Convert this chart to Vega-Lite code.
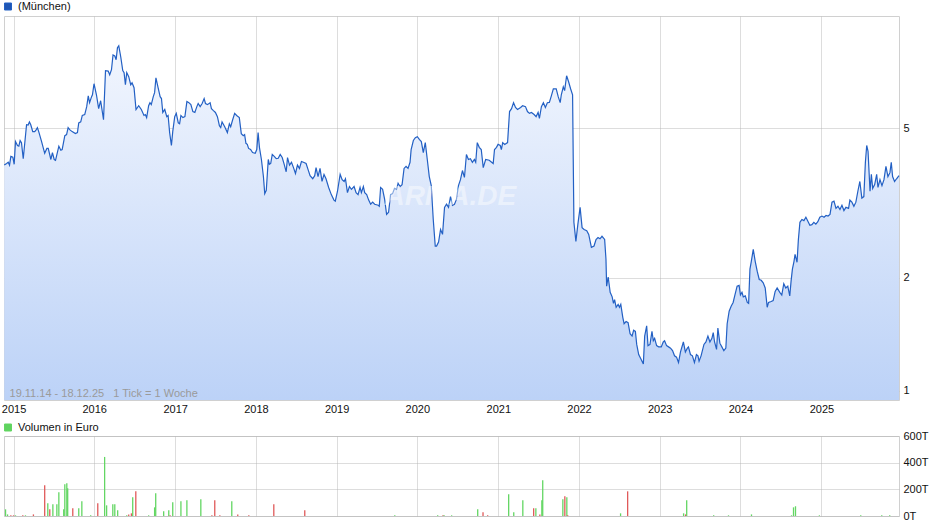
{
"$schema": "https://vega.github.io/schema/vega-lite/v6.json",
"padding": {"left": 0, "top": 0, "right": 5, "bottom": 5},
"background": "white",
"config": {
  "font": "Liberation Sans",
  "view": {"stroke": "#d0d0d0"},
  "axis": {"labelFont": "Liberation Sans", "labelFontSize": 11, "labelColor": "#111111", "domain": false, "ticks": false, "gridColor": "#b4b4b4", "gridOpacity": 0.45, "labelFlush": false, "title": null, "zindex": 1},
  "legend": {"labelFont": "Liberation Sans", "labelFontSize": 11, "labelColor": "#111111"}
},
"datasets": {
"price": [
{"d":"2014-11-20","p":3.99},{"d":"2014-12-01","p":4.03},{"d":"2014-12-08","p":4.06},{"d":"2014-12-14","p":3.99},{"d":"2014-12-20","p":4.21},{"d":"2014-12-29","p":4.19},
{"d":"2015-01-04","p":4.01},{"d":"2015-01-10","p":4.61},{"d":"2015-01-19","p":4.50},{"d":"2015-01-25","p":4.48},{"d":"2015-01-31","p":4.64},{"d":"2015-02-06","p":4.58},{"d":"2015-02-14","p":4.15},{"d":"2015-03-01","p":5.11},{"d":"2015-03-08","p":5.10},{"d":"2015-03-14","p":5.20},{"d":"2015-03-20","p":5.11},{"d":"2015-03-29","p":4.90},{"d":"2015-04-07","p":4.90},{"d":"2015-04-14","p":4.96},{"d":"2015-04-19","p":5.02},{"d":"2015-04-25","p":4.90},{"d":"2015-05-08","p":4.61},{"d":"2015-05-22","p":4.29},{"d":"2015-06-01","p":4.42},{"d":"2015-06-07","p":4.42},{"d":"2015-06-19","p":4.13},{"d":"2015-06-26","p":4.31},{"d":"2015-07-04","p":4.13},{"d":"2015-07-10","p":4.11},{"d":"2015-07-25","p":4.48},{"d":"2015-08-03","p":4.37},{"d":"2015-08-09","p":4.39},{"d":"2015-08-21","p":4.78},{"d":"2015-08-29","p":4.81},{"d":"2015-09-05","p":5.02},{"d":"2015-09-12","p":4.96},{"d":"2015-09-23","p":4.90},{"d":"2015-10-08","p":4.84},{"d":"2015-10-17","p":4.87},{"d":"2015-10-23","p":5.17},{"d":"2015-11-01","p":5.20},{"d":"2015-11-08","p":5.41},{"d":"2015-11-19","p":5.44},{"d":"2015-11-28","p":5.71},{"d":"2015-12-05","p":6.10},{"d":"2015-12-11","p":5.85},{"d":"2015-12-20","p":6.07},{"d":"2015-12-24","p":6.14},{"d":"2015-12-31","p":6.57},
{"d":"2016-01-11","p":6.14},{"d":"2016-01-21","p":5.64},{"d":"2016-01-30","p":5.92},{"d":"2016-02-12","p":5.27},{"d":"2016-02-21","p":7.12},{"d":"2016-03-04","p":7.10},{"d":"2016-03-11","p":6.94},{"d":"2016-03-19","p":7.16},{"d":"2016-03-26","p":7.84},{"d":"2016-04-03","p":7.79},{"d":"2016-04-09","p":7.61},{"d":"2016-04-15","p":8.19},{"d":"2016-04-21","p":8.29},{"d":"2016-04-30","p":7.74},{"d":"2016-05-09","p":7.12},{"d":"2016-05-15","p":7.03},{"d":"2016-05-21","p":6.53},{"d":"2016-05-27","p":7.03},{"d":"2016-06-05","p":6.86},{"d":"2016-06-14","p":6.53},{"d":"2016-06-20","p":6.61},{"d":"2016-06-29","p":6.41},{"d":"2016-07-08","p":5.61},{"d":"2016-07-20","p":5.74},{"d":"2016-08-01","p":5.61},{"d":"2016-08-13","p":5.41},{"d":"2016-08-19","p":5.44},{"d":"2016-08-25","p":5.34},{"d":"2016-09-03","p":5.74},{"d":"2016-09-09","p":5.85},{"d":"2016-09-15","p":5.78},{"d":"2016-09-24","p":6.07},{"d":"2016-09-30","p":6.22},{"d":"2016-10-06","p":6.81},{"d":"2016-10-16","p":6.41},{"d":"2016-10-25","p":6.07},{"d":"2016-10-31","p":6.00},{"d":"2016-11-06","p":5.51},{"d":"2016-11-15","p":5.61},{"d":"2016-11-24","p":5.37},{"d":"2016-11-30","p":5.41},{"d":"2016-12-07","p":4.87},{"d":"2016-12-15","p":4.50},{"d":"2016-12-21","p":4.90},{"d":"2016-12-30","p":5.37},
{"d":"2017-01-06","p":5.48},{"d":"2017-01-15","p":5.17},{"d":"2017-01-21","p":5.14},{"d":"2017-01-27","p":5.41},{"d":"2017-02-05","p":5.34},{"d":"2017-02-14","p":5.37},{"d":"2017-02-23","p":5.89},{"d":"2017-03-04","p":5.85},{"d":"2017-03-13","p":5.78},{"d":"2017-03-22","p":5.54},{"d":"2017-03-31","p":5.51},{"d":"2017-04-09","p":5.71},{"d":"2017-04-15","p":5.82},{"d":"2017-04-24","p":5.71},{"d":"2017-05-03","p":5.82},{"d":"2017-05-12","p":6.00},{"d":"2017-05-18","p":5.82},{"d":"2017-05-27","p":5.78},{"d":"2017-06-08","p":5.85},{"d":"2017-06-14","p":5.64},{"d":"2017-06-23","p":5.57},{"d":"2017-07-02","p":5.51},{"d":"2017-07-11","p":5.37},{"d":"2017-07-20","p":5.08},{"d":"2017-07-26","p":5.02},{"d":"2017-08-01","p":5.20},{"d":"2017-08-13","p":5.05},{"d":"2017-08-25","p":4.87},{"d":"2017-09-03","p":5.14},{"d":"2017-09-09","p":5.05},{"d":"2017-09-18","p":5.27},{"d":"2017-09-27","p":5.48},{"d":"2017-10-06","p":5.41},{"d":"2017-10-18","p":5.34},{"d":"2017-10-27","p":4.84},{"d":"2017-11-05","p":4.78},{"d":"2017-11-11","p":4.81},{"d":"2017-11-17","p":4.56},{"d":"2017-11-23","p":4.53},{"d":"2017-11-29","p":4.42},{"d":"2017-12-08","p":4.39},{"d":"2017-12-17","p":4.31},{"d":"2017-12-29","p":4.29},
{"d":"2018-01-05","p":4.39},{"d":"2018-01-11","p":4.87},{"d":"2018-01-17","p":4.45},{"d":"2018-01-26","p":4.13},{"d":"2018-02-04","p":3.72},{"d":"2018-02-10","p":3.35},{"d":"2018-02-17","p":3.42},{"d":"2018-02-26","p":4.13},{"d":"2018-03-03","p":4.01},{"d":"2018-03-09","p":4.03},{"d":"2018-03-16","p":4.26},{"d":"2018-03-25","p":4.21},{"d":"2018-04-03","p":4.15},{"d":"2018-04-12","p":4.16},{"d":"2018-04-21","p":4.26},{"d":"2018-04-30","p":4.18},{"d":"2018-05-09","p":4.01},{"d":"2018-05-18","p":3.83},{"d":"2018-05-24","p":4.18},{"d":"2018-06-02","p":3.99},{"d":"2018-06-11","p":4.06},{"d":"2018-06-20","p":3.93},{"d":"2018-06-29","p":3.79},{"d":"2018-07-08","p":3.99},{"d":"2018-07-17","p":3.91},{"d":"2018-07-26","p":4.08},{"d":"2018-08-04","p":4.06},{"d":"2018-08-16","p":4.03},{"d":"2018-08-25","p":3.88},{"d":"2018-09-03","p":3.74},{"d":"2018-09-15","p":3.67},{"d":"2018-09-24","p":3.74},{"d":"2018-09-30","p":3.93},{"d":"2018-10-09","p":3.72},{"d":"2018-10-18","p":3.91},{"d":"2018-10-27","p":3.61},{"d":"2018-11-05","p":3.77},{"d":"2018-11-14","p":3.67},{"d":"2018-11-26","p":3.48},{"d":"2018-12-08","p":3.33},{"d":"2018-12-20","p":3.22},{"d":"2018-12-26","p":3.20},
{"d":"2019-01-05","p":3.40},{"d":"2019-01-17","p":3.77},{"d":"2019-01-26","p":3.65},{"d":"2019-02-04","p":3.61},{"d":"2019-02-10","p":3.67},{"d":"2019-02-19","p":3.37},{"d":"2019-02-28","p":3.50},{"d":"2019-03-09","p":3.44},{"d":"2019-03-21","p":3.50},{"d":"2019-03-30","p":3.37},{"d":"2019-04-08","p":3.33},{"d":"2019-04-17","p":3.48},{"d":"2019-04-23","p":3.37},{"d":"2019-05-02","p":3.50},{"d":"2019-05-08","p":3.37},{"d":"2019-05-17","p":3.33},{"d":"2019-05-26","p":3.22},{"d":"2019-06-04","p":3.14},{"d":"2019-06-13","p":3.18},{"d":"2019-06-22","p":3.14},{"d":"2019-07-08","p":3.12},{"d":"2019-07-13","p":3.10},{"d":"2019-07-19","p":3.48},{"d":"2019-07-28","p":3.44},{"d":"2019-08-06","p":3.24},{"d":"2019-08-15","p":2.95},{"d":"2019-08-24","p":2.99},{"d":"2019-09-02","p":3.33},{"d":"2019-09-11","p":3.35},{"d":"2019-09-20","p":3.46},{"d":"2019-09-29","p":3.44},{"d":"2019-10-06","p":3.57},{"d":"2019-10-15","p":3.50},{"d":"2019-10-24","p":3.54},{"d":"2019-11-02","p":3.91},{"d":"2019-11-11","p":3.96},{"d":"2019-11-20","p":3.91},{"d":"2019-11-29","p":4.06},{"d":"2019-12-04","p":4.39},{"d":"2019-12-14","p":4.64},{"d":"2019-12-23","p":4.72},
{"d":"2020-01-01","p":4.75},{"d":"2020-01-10","p":4.67},{"d":"2020-01-19","p":4.61},{"d":"2020-01-28","p":4.31},{"d":"2020-02-06","p":4.58},{"d":"2020-02-15","p":4.13},{"d":"2020-02-24","p":3.72},{"d":"2020-03-04","p":3.52},{"d":"2020-03-13","p":2.86},{"d":"2020-03-22","p":2.43},{"d":"2020-03-28","p":2.43},{"d":"2020-04-06","p":2.49},{"d":"2020-04-15","p":2.69},{"d":"2020-04-24","p":2.61},{"d":"2020-05-03","p":3.08},{"d":"2020-05-12","p":3.14},{"d":"2020-05-21","p":3.08},{"d":"2020-05-30","p":3.29},{"d":"2020-06-08","p":3.12},{"d":"2020-06-17","p":3.14},{"d":"2020-06-26","p":3.24},{"d":"2020-07-05","p":3.52},{"d":"2020-07-14","p":3.65},{"d":"2020-07-23","p":3.86},{"d":"2020-08-01","p":3.70},{"d":"2020-08-10","p":4.26},{"d":"2020-08-19","p":4.13},{"d":"2020-08-28","p":4.15},{"d":"2020-09-06","p":4.06},{"d":"2020-09-15","p":4.13},{"d":"2020-09-21","p":4.06},{"d":"2020-09-28","p":4.58},{"d":"2020-10-07","p":4.45},{"d":"2020-10-16","p":4.39},{"d":"2020-10-25","p":3.93},{"d":"2020-11-05","p":4.13},{"d":"2020-11-21","p":4.11},{"d":"2020-12-09","p":4.03},{"d":"2020-12-15","p":4.39},{"d":"2020-12-24","p":4.45},{"d":"2020-12-31","p":4.53},
{"d":"2021-01-10","p":4.50},{"d":"2021-01-15","p":4.39},{"d":"2021-01-21","p":4.58},{"d":"2021-01-30","p":4.53},{"d":"2021-02-12","p":4.58},{"d":"2021-02-21","p":5.54},{"d":"2021-03-02","p":5.64},{"d":"2021-03-11","p":5.85},{"d":"2021-03-20","p":5.68},{"d":"2021-03-29","p":5.61},{"d":"2021-04-12","p":5.68},{"d":"2021-04-21","p":5.74},{"d":"2021-05-04","p":5.71},{"d":"2021-05-13","p":5.54},{"d":"2021-05-22","p":5.48},{"d":"2021-05-31","p":5.51},{"d":"2021-06-12","p":5.44},{"d":"2021-06-21","p":5.37},{"d":"2021-06-30","p":5.51},{"d":"2021-07-06","p":5.31},{"d":"2021-07-15","p":5.71},{"d":"2021-07-24","p":5.85},{"d":"2021-08-02","p":5.68},{"d":"2021-08-11","p":5.85},{"d":"2021-08-20","p":5.86},{"d":"2021-08-29","p":6.10},{"d":"2021-09-07","p":6.37},{"d":"2021-09-20","p":6.37},{"d":"2021-09-29","p":6.07},{"d":"2021-10-08","p":5.85},{"d":"2021-10-13","p":6.14},{"d":"2021-10-22","p":6.45},{"d":"2021-10-28","p":6.30},{"d":"2021-11-06","p":6.90},{"d":"2021-11-15","p":6.65},{"d":"2021-11-24","p":6.37},{"d":"2021-12-03","p":6.14},{"d":"2021-12-06","p":4.13},{"d":"2021-12-09","p":2.81},{"d":"2021-12-18","p":2.50},{"d":"2021-12-27","p":2.78},
{"d":"2022-01-06","p":3.08},{"d":"2022-01-15","p":2.72},{"d":"2022-01-24","p":2.69},{"d":"2022-02-05","p":2.67},{"d":"2022-02-14","p":2.61},{"d":"2022-02-26","p":2.41},{"d":"2022-03-10","p":2.43},{"d":"2022-03-19","p":2.53},{"d":"2022-03-28","p":2.56},{"d":"2022-04-06","p":2.54},{"d":"2022-04-15","p":2.58},{"d":"2022-04-27","p":2.53},{"d":"2022-05-03","p":2.24},{"d":"2022-05-06","p":1.90},{"d":"2022-05-13","p":2.01},{"d":"2022-05-22","p":1.83},{"d":"2022-05-31","p":1.78},{"d":"2022-06-06","p":1.71},{"d":"2022-06-11","p":1.75},{"d":"2022-06-18","p":1.67},{"d":"2022-06-27","p":1.70},{"d":"2022-07-03","p":1.67},{"d":"2022-07-09","p":1.70},{"d":"2022-07-18","p":1.57},{"d":"2022-07-24","p":1.51},{"d":"2022-08-02","p":1.53},{"d":"2022-08-11","p":1.52},{"d":"2022-08-20","p":1.42},{"d":"2022-08-29","p":1.40},{"d":"2022-09-05","p":1.45},{"d":"2022-09-13","p":1.44},{"d":"2022-09-19","p":1.33},{"d":"2022-09-28","p":1.25},{"d":"2022-10-07","p":1.22},{"d":"2022-10-19","p":1.18},{"d":"2022-10-25","p":1.40},{"d":"2022-11-03","p":1.49},{"d":"2022-11-09","p":1.32},{"d":"2022-11-18","p":1.33},{"d":"2022-11-27","p":1.44},{"d":"2022-12-03","p":1.36},{"d":"2022-12-09","p":1.38},{"d":"2022-12-18","p":1.32},{"d":"2022-12-27","p":1.31},
{"d":"2023-01-08","p":1.31},{"d":"2023-01-17","p":1.35},{"d":"2023-01-23","p":1.36},{"d":"2023-02-01","p":1.32},{"d":"2023-02-10","p":1.31},{"d":"2023-02-19","p":1.30},{"d":"2023-02-28","p":1.28},{"d":"2023-03-09","p":1.24},{"d":"2023-03-18","p":1.23},{"d":"2023-03-27","p":1.19},{"d":"2023-04-05","p":1.27},{"d":"2023-04-18","p":1.35},{"d":"2023-04-27","p":1.27},{"d":"2023-05-06","p":1.30},{"d":"2023-05-11","p":1.31},{"d":"2023-05-20","p":1.25},{"d":"2023-05-29","p":1.24},{"d":"2023-06-07","p":1.19},{"d":"2023-06-16","p":1.25},{"d":"2023-06-23","p":1.24},{"d":"2023-06-28","p":1.20},{"d":"2023-07-07","p":1.24},{"d":"2023-07-20","p":1.33},{"d":"2023-07-29","p":1.35},{"d":"2023-08-07","p":1.40},{"d":"2023-08-16","p":1.35},{"d":"2023-08-25","p":1.38},{"d":"2023-08-31","p":1.43},{"d":"2023-09-06","p":1.35},{"d":"2023-09-15","p":1.29},{"d":"2023-09-21","p":1.47},{"d":"2023-09-30","p":1.34},{"d":"2023-10-09","p":1.31},{"d":"2023-10-18","p":1.28},{"d":"2023-10-27","p":1.30},{"d":"2023-11-02","p":1.51},{"d":"2023-11-11","p":1.63},{"d":"2023-11-20","p":1.68},{"d":"2023-11-29","p":1.72},{"d":"2023-12-08","p":1.81},{"d":"2023-12-17","p":1.90},{"d":"2023-12-26","p":1.91},
{"d":"2024-01-01","p":1.80},{"d":"2024-01-08","p":1.83},{"d":"2024-01-14","p":1.78},{"d":"2024-01-23","p":1.79},{"d":"2024-02-01","p":1.72},{"d":"2024-02-07","p":1.71},{"d":"2024-02-13","p":2.11},{"d":"2024-02-19","p":2.21},{"d":"2024-02-28","p":2.38},{"d":"2024-03-08","p":2.21},{"d":"2024-03-17","p":2.08},{"d":"2024-03-26","p":1.98},{"d":"2024-04-04","p":1.97},{"d":"2024-04-13","p":1.94},{"d":"2024-04-22","p":1.88},{"d":"2024-05-01","p":1.67},{"d":"2024-05-07","p":1.72},{"d":"2024-05-19","p":1.73},{"d":"2024-05-28","p":1.74},{"d":"2024-06-06","p":1.84},{"d":"2024-06-15","p":1.88},{"d":"2024-06-27","p":1.83},{"d":"2024-07-06","p":1.80},{"d":"2024-07-15","p":1.93},{"d":"2024-07-24","p":1.88},{"d":"2024-08-02","p":1.90},{"d":"2024-08-11","p":1.79},{"d":"2024-08-17","p":1.96},{"d":"2024-08-23","p":2.11},{"d":"2024-08-30","p":2.21},{"d":"2024-09-04","p":2.31},{"d":"2024-09-13","p":2.20},{"d":"2024-09-19","p":2.53},{"d":"2024-09-26","p":2.81},{"d":"2024-10-05","p":2.86},{"d":"2024-10-14","p":2.84},{"d":"2024-10-23","p":2.90},{"d":"2024-11-01","p":2.83},{"d":"2024-11-10","p":2.76},{"d":"2024-11-19","p":2.77},{"d":"2024-11-28","p":2.81},{"d":"2024-12-07","p":2.78},{"d":"2024-12-16","p":2.82},{"d":"2024-12-25","p":2.90},
{"d":"2025-01-04","p":2.92},{"d":"2025-01-13","p":2.90},{"d":"2025-01-22","p":2.93},{"d":"2025-01-31","p":2.92},{"d":"2025-02-09","p":2.95},{"d":"2025-02-18","p":3.18},{"d":"2025-02-27","p":3.20},{"d":"2025-03-08","p":3.06},{"d":"2025-03-17","p":3.10},{"d":"2025-03-26","p":3.04},{"d":"2025-04-04","p":3.12},{"d":"2025-04-13","p":3.02},{"d":"2025-04-22","p":3.08},{"d":"2025-05-04","p":3.06},{"d":"2025-05-10","p":3.22},{"d":"2025-05-19","p":3.18},{"d":"2025-05-28","p":3.10},{"d":"2025-06-06","p":3.18},{"d":"2025-06-15","p":3.40},{"d":"2025-06-24","p":3.61},{"d":"2025-07-03","p":3.26},{"d":"2025-07-12","p":3.29},{"d":"2025-07-19","p":4.06},{"d":"2025-07-25","p":4.50},{"d":"2025-07-31","p":4.34},{"d":"2025-08-09","p":3.40},{"d":"2025-08-15","p":3.77},{"d":"2025-08-21","p":3.46},{"d":"2025-08-30","p":3.54},{"d":"2025-09-08","p":3.77},{"d":"2025-09-14","p":3.48},{"d":"2025-09-23","p":3.65},{"d":"2025-10-02","p":3.52},{"d":"2025-10-11","p":3.65},{"d":"2025-10-20","p":3.96},{"d":"2025-10-29","p":3.72},{"d":"2025-11-07","p":3.81},{"d":"2025-11-13","p":4.06},{"d":"2025-11-19","p":3.72},{"d":"2025-11-28","p":3.61},{"d":"2025-12-07","p":3.67},{"d":"2025-12-18","p":3.74}
],
"vol": [
{"d":"2014-11-26","v":50000,"dir":"up"},{"d":"2014-12-05","v":12000,"dir":"up"},{"d":"2014-12-20","v":5000,"dir":"down"},{"d":"2015-01-01","v":5000,"dir":"down"},{"d":"2015-01-10","v":5000,"dir":"up"},{"d":"2015-02-12","v":5000,"dir":"down"},{"d":"2015-02-24","v":5000,"dir":"up"},{"d":"2015-04-01","v":12000,"dir":"down"},{"d":"2015-05-22","v":230000,"dir":"down"},{"d":"2015-06-05","v":95000,"dir":"up"},{"d":"2015-06-14","v":50000,"dir":"down"},{"d":"2015-06-28","v":88000,"dir":"up"},{"d":"2015-07-16","v":88000,"dir":"up"},{"d":"2015-07-25","v":178000,"dir":"up"},{"d":"2015-08-16","v":50000,"dir":"up"},{"d":"2015-08-21","v":238000,"dir":"up"},{"d":"2015-08-30","v":245000,"dir":"up"},{"d":"2015-09-03","v":208000,"dir":"up"},{"d":"2015-09-26","v":58000,"dir":"down"},{"d":"2015-10-23","v":58000,"dir":"up"},{"d":"2015-11-06","v":110000,"dir":"up"},{"d":"2015-12-16","v":5000,"dir":"up"},
{"d":"2016-01-17","v":95000,"dir":"down"},{"d":"2016-02-17","v":443000,"dir":"up"},{"d":"2016-02-26","v":80000,"dir":"up"},{"d":"2016-03-25","v":88000,"dir":"up"},{"d":"2016-04-03","v":88000,"dir":"up"},{"d":"2016-04-16","v":43000,"dir":"up"},{"d":"2016-05-27","v":5000,"dir":"up"},{"d":"2016-06-05","v":12000,"dir":"down"},{"d":"2016-06-17","v":20000,"dir":"down"},{"d":"2016-06-23","v":140000,"dir":"up"},{"d":"2016-07-07","v":185000,"dir":"down"},{"d":"2016-09-03","v":5000,"dir":"up"},{"d":"2016-09-30","v":65000,"dir":"up"},{"d":"2016-10-05","v":170000,"dir":"up"},{"d":"2016-11-10","v":35000,"dir":"up"},{"d":"2016-12-03","v":43000,"dir":"up"},{"d":"2016-12-09","v":5000,"dir":"down"},{"d":"2016-12-21","v":103000,"dir":"up"},
{"d":"2017-01-27","v":110000,"dir":"up"},{"d":"2017-02-23","v":118000,"dir":"up"},{"d":"2017-04-27","v":125000,"dir":"up"},{"d":"2017-06-16","v":5000,"dir":"down"},{"d":"2017-06-29","v":118000,"dir":"down"},{"d":"2017-07-22","v":5000,"dir":"down"},{"d":"2017-09-14","v":110000,"dir":"up"},{"d":"2017-10-11","v":12000,"dir":"down"},{"d":"2017-11-30","v":5000,"dir":"down"},
{"d":"2018-03-23","v":88000,"dir":"down"},{"d":"2018-08-10","v":43000,"dir":"down"},{"d":"2019-09-21","v":5000,"dir":"up"},
{"d":"2020-04-02","v":5000,"dir":"up"},{"d":"2020-04-26","v":5000,"dir":"down"},{"d":"2020-05-01","v":5000,"dir":"up"},{"d":"2020-06-04","v":5000,"dir":"up"},{"d":"2020-09-30","v":50000,"dir":"up"},{"d":"2020-10-24","v":28000,"dir":"down"},{"d":"2020-11-14","v":5000,"dir":"down"},
{"d":"2021-02-17","v":163000,"dir":"up"},{"d":"2021-03-12","v":28000,"dir":"up"},{"d":"2021-04-22","v":118000,"dir":"up"},{"d":"2021-06-10","v":58000,"dir":"down"},{"d":"2021-06-20","v":58000,"dir":"up"},{"d":"2021-07-08","v":12000,"dir":"down"},{"d":"2021-07-17","v":118000,"dir":"up"},{"d":"2021-07-21","v":268000,"dir":"up"},{"d":"2021-10-20","v":125000,"dir":"up"},{"d":"2021-10-29","v":148000,"dir":"down"},{"d":"2021-11-07","v":140000,"dir":"up"},{"d":"2021-11-11","v":5000,"dir":"down"},
{"d":"2022-07-08","v":20000,"dir":"up"},{"d":"2022-08-09","v":185000,"dir":"down"},{"d":"2023-04-19","v":20000,"dir":"up"},{"d":"2023-04-28","v":12000,"dir":"down"},{"d":"2023-05-03","v":118000,"dir":"up"},{"d":"2023-09-02","v":5000,"dir":"up"},{"d":"2023-11-08","v":5000,"dir":"up"},
{"d":"2024-02-20","v":12000,"dir":"up"},{"d":"2024-08-19","v":5000,"dir":"up"},{"d":"2024-08-28","v":65000,"dir":"up"},{"d":"2024-09-06","v":73000,"dir":"up"},{"d":"2024-12-23","v":5000,"dir":"up"},{"d":"2025-06-28","v":5000,"dir":"up"},{"d":"2025-10-01","v":5000,"dir":"up"},{"d":"2025-11-06","v":5000,"dir":"up"}
]
},
"spacing": 36,
"bounds": "flush",
"resolve": {"scale": {"color": "independent"}, "legend": {"color": "independent"}},
"vconcat": [
{
  "width": 895, "height": 384,
  "layer": [
    {
      "data": {"name": "price"},
      "mark": {"type": "area", "line": false, "color": {"gradient": "linear", "x1": 1, "y1": 1, "x2": 1, "y2": 0, "stops": [{"offset": 0, "color": "#bcd2f7"}, {"offset": 1, "color": "#f2f6fe"}]}},
      "encoding": {
        "x": {"field": "d", "type": "temporal", "scale": {"domain": [{"year": 2014, "month": 11, "date": 19}, {"year": 2025, "month": 12, "date": 18}]},
              "axis": {"values": [{"year":2015,"month":1,"date":1},{"year":2016,"month":1,"date":1},{"year":2017,"month":1,"date":1},{"year":2018,"month":1,"date":1},{"year":2019,"month":1,"date":1},{"year":2020,"month":1,"date":1},{"year":2021,"month":1,"date":1},{"year":2022,"month":1,"date":1},{"year":2023,"month":1,"date":1},{"year":2024,"month":1,"date":1},{"year":2025,"month":1,"date":1}], "format": "%Y", "labelPadding": 3, "grid": true}},
        "y": {"field": "p", "type": "quantitative", "scale": {"type": "log", "domain": [0.946, 9.95], "nice": false},
              "axis": {"orient": "right", "values": [1, 2, 5], "format": "d", "labelPadding": 4, "grid": true}},
        "y2": {"datum": 0.946}
      }
    },
    {
      "data": {"name": "price"},
      "mark": {"type": "line", "strokeWidth": 1.2},
      "encoding": {
        "x": {"field": "d", "type": "temporal"},
        "y": {"field": "p", "type": "quantitative"},
        "color": {"datum": "(München)", "scale": {"range": ["#2360c4"]},
          "legend": {"orient": "none", "legendX": -1.5, "legendY": -15, "title": null, "symbolType": "square", "symbolSize": 49, "labelOffset": 4.5, "padding": 0,
            "symbolStrokeColor": "#1a1a1a", "symbolStrokeWidth": 1, "symbolFillColor": "#1f56b4",
            "encode": {"symbols": {"update": {"fill": {"value": "#1f56b4"}, "stroke": {"value": "#1a1a1a"}, "strokeWidth": {"value": 1}, "opacity": {"value": 1}}}}}}
      }
    },
    {
      "data": {"values": [{}]},
      "mark": {"type": "text", "text": "19.11.14 - 18.12.25\u00a0\u00a0\u00a01 Tick = 1 Woche", "align": "left", "baseline": "alphabetic", "fontSize": 11, "color": "#9a9a9a"},
      "encoding": {"x": {"datum": {"year": 2014, "month": 12, "date": 14}}, "y": {"datum": 0.964}}
    },
    {
      "data": {"values": [{}]},
      "mark": {"type": "text", "text": "ARIVA.DE", "align": "center", "baseline": "middle", "fontSize": 28, "fontStyle": "italic", "fontWeight": "bold", "color": "#ffffff", "opacity": 0.45},
      "encoding": {"x": {"datum": {"year": 2020, "month": 5, "date": 29}}, "y": {"datum": 3.28}}
    }
  ]
},
{
  "width": 895, "height": 80,
  "data": {"name": "vol"},
  "mark": {"type": "rule", "strokeWidth": 1.3},
  "encoding": {
    "x": {"field": "d", "type": "temporal", "scale": {"domain": [{"year": 2014, "month": 11, "date": 19}, {"year": 2025, "month": 12, "date": 18}]},
          "axis": {"values": [{"year":2015,"month":1,"date":1},{"year":2016,"month":1,"date":1},{"year":2017,"month":1,"date":1},{"year":2018,"month":1,"date":1},{"year":2019,"month":1,"date":1},{"year":2020,"month":1,"date":1},{"year":2021,"month":1,"date":1},{"year":2022,"month":1,"date":1},{"year":2023,"month":1,"date":1},{"year":2024,"month":1,"date":1},{"year":2025,"month":1,"date":1}], "labels": false, "grid": true}},
    "y": {"field": "v", "type": "quantitative", "scale": {"domain": [0, 600000], "nice": false},
          "axis": {"orient": "right", "values": [0, 200000, 400000, 600000], "labelExpr": "(datum.value / 1000) + 'T'", "labelPadding": 4, "grid": true}},
    "y2": {"datum": 0},
    "color": {"field": "dir", "type": "nominal", "scale": {"domain": ["up", "down"], "range": ["#63d663", "#e05a5a"]},
      "legend": {"orient": "none", "legendX": -1.5, "legendY": -14, "title": null, "values": ["up"], "labelExpr": "'Volumen in Euro'", "symbolType": "square", "symbolSize": 49, "labelOffset": 4.5, "padding": 0,
        "symbolStrokeColor": "#1a1a1a", "symbolStrokeWidth": 1, "symbolFillColor": "#5fd35f",
        "encode": {"symbols": {"update": {"fill": {"value": "#5fd35f"}, "stroke": {"value": "#1a1a1a"}, "strokeWidth": {"value": 1}, "opacity": {"value": 1}}}}}}
  }
}
]
}
